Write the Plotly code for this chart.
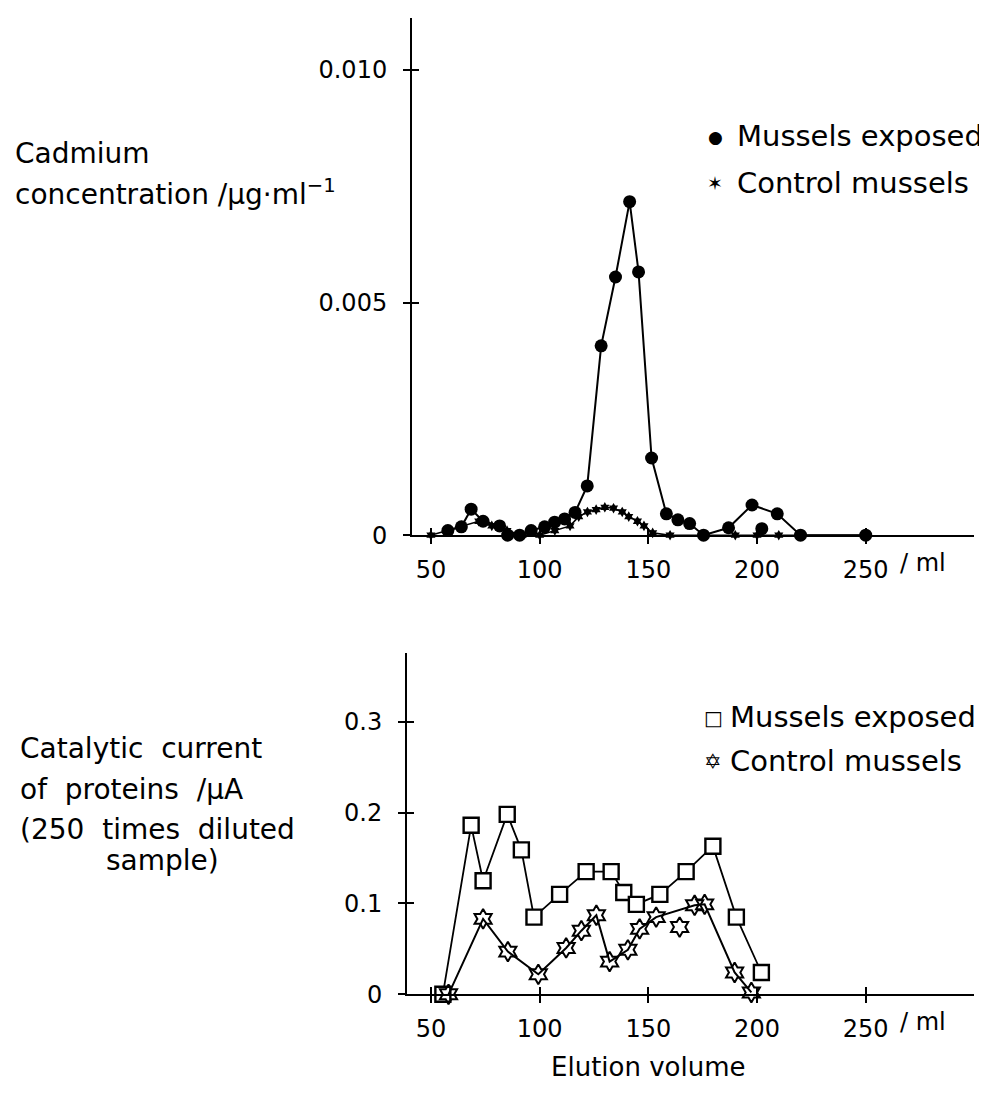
import plotly.graph_objects as go

W, H = 987, 1101

# ---------------- data ----------------
# Top panel: cadmium concentration (ug/ml) vs elution volume (ml)
cd_exposed_ml = [57.8, 64.0, 68.5, 74.0, 81.6, 85.3, 90.8, 96.1, 102.3, 106.9, 111.5,
                 116.3, 121.9, 128.3, 134.9, 141.4, 145.5, 151.5, 158.3, 163.6, 169.0,
                 175.4, 186.9, 197.7, 209.3, 220.0, 250.0]
cd_exposed_val = [0.0001, 0.00018, 0.00056, 0.0003, 0.0002, 0.0, 0.0, 0.0001, 0.00018,
                  0.00028, 0.00035, 0.00049, 0.00106, 0.00407, 0.00555, 0.00717,
                  0.00566, 0.00166, 0.00046, 0.00033, 0.00025, 0.0, 0.00016, 0.00065,
                  0.00046, 0.0, 0.0]
cd_exposed_extra_ml = [202.2]
cd_exposed_extra_val = [0.00014]

cd_control_ml = [50, 57, 64, 72, 78, 85, 92, 100, 107, 114, 118, 122, 126, 130, 134,
                 138, 141, 145, 148, 152, 160, 175, 190, 200, 210, 220, 250]
cd_control_val = [0.0, 0.0001, 0.0002, 0.0003, 0.0002, 0.0001, 0.0, 0.0, 0.0001, 0.0002,
                  0.0004, 0.0005, 0.00055, 0.0006, 0.00058, 0.0005, 0.0004, 0.0003,
                  0.0002, 0.00005, 0.0, 0.0, 0.0, 0.0, 0.0, 0.0, 0.0]

# Bottom panel: catalytic current of proteins (uA)
cc_exposed_ml = [55.5, 68.5, 74.0, 85.1, 91.6, 97.4, 109.2, 121.4, 132.9, 138.7, 144.5,
                 155.3, 167.4, 179.7, 190.5, 202.0]
cc_exposed_val = [0.0, 0.186, 0.125, 0.198, 0.159, 0.085, 0.110, 0.135, 0.135, 0.112,
                  0.099, 0.110, 0.135, 0.163, 0.085, 0.024]

cc_control_ml = [58.1, 74.0, 85.4, 99.4, 112.2, 119.2, 126.1, 132.2, 140.6, 146.0,
                 153.6, 171.3, 175.9, 189.7, 197.4]
cc_control_val = [0.0, 0.083, 0.047, 0.022, 0.051, 0.070, 0.087, 0.036, 0.049, 0.072,
                  0.085, 0.098, 0.099, 0.024, 0.002]
cc_control_extra_ml = [164.4]
cc_control_extra_val = [0.074]

x_ticks = [50, 100, 150, 200, 250]
top_y_ticks = [0, 0.005, 0.010]
top_y_ticktext = ["0", "0.005", "0.010"]
bot_y_ticks = [0, 0.1, 0.2, 0.3]
bot_y_ticktext = ["0", "0.1", "0.2", "0.3"]

legend_labels = ["Mussels exposed", "Control mussels"]

# ---------------- figure ----------------
FONT = "DejaVu Sans"
BLACK = "black"


def px(x):
    return x / W


def py(y):
    return 1 - y / H


fig = go.Figure()

# top panel
fig.add_trace(go.Scatter(x=cd_control_ml, y=cd_control_val, mode="lines+markers",
                         line=dict(color=BLACK, width=1.6),
                         marker=dict(symbol="hexagram", size=8, color=BLACK),
                         xaxis="x", yaxis="y", cliponaxis=False, showlegend=False))
fig.add_trace(go.Scatter(x=cd_exposed_ml, y=cd_exposed_val, mode="lines+markers",
                         line=dict(color=BLACK, width=2),
                         marker=dict(symbol="circle", size=13, color=BLACK),
                         xaxis="x", yaxis="y", cliponaxis=False, showlegend=False))
fig.add_trace(go.Scatter(x=cd_exposed_extra_ml, y=cd_exposed_extra_val, mode="markers",
                         marker=dict(symbol="circle", size=13, color=BLACK),
                         xaxis="x", yaxis="y", cliponaxis=False, showlegend=False))

# bottom panel
fig.add_trace(go.Scatter(x=cc_exposed_ml, y=cc_exposed_val, mode="lines+markers",
                         line=dict(color=BLACK, width=1.8),
                         marker=dict(symbol="square", size=15, color="white",
                                     line=dict(color=BLACK, width=2.4)),
                         xaxis="x2", yaxis="y2", cliponaxis=False, showlegend=False))
fig.add_trace(go.Scatter(x=cc_control_ml, y=cc_control_val, mode="lines+markers",
                         line=dict(color=BLACK, width=2),
                         marker=dict(symbol="hexagram-open", size=15, color=BLACK,
                                     line=dict(color=BLACK, width=2)),
                         xaxis="x2", yaxis="y2", cliponaxis=False, showlegend=False))
fig.add_trace(go.Scatter(x=cc_control_extra_ml, y=cc_control_extra_val, mode="markers",
                         marker=dict(symbol="hexagram-open", size=15, color=BLACK,
                                     line=dict(color=BLACK, width=2)),
                         xaxis="x2", yaxis="y2", cliponaxis=False, showlegend=False))

# empty traces so the inner-tick overlay axes are drawn
for xa, ya in (("x3", "y3"), ("x4", "y4")):
    fig.add_trace(go.Scatter(x=[], y=[], xaxis=xa, yaxis=ya, showlegend=False,
                             hoverinfo="skip"))

TOP_X_DOMAIN = [px(404), px(966)]
TOP_X_RANGE = [41.3, 299.8]
BOT_X_DOMAIN = [px(399), px(966)]
BOT_X_RANGE = [39.0, 299.8]
TOP_Y_DOMAIN = [py(534), py(10)]
TOP_Y_RANGE = [0, 0.01112]
BOT_Y_DOMAIN = [py(999), py(653)]
BOT_Y_RANGE = [0, 0.376]

TICKFONT = dict(family=FONT, size=24, color=BLACK)
base = dict(showgrid=False, zeroline=False, tickcolor=BLACK, tickwidth=2, ticklen=7)
main_x = dict(showline=True, linecolor=BLACK, linewidth=2, ticks="outside",
              tickfont=TICKFONT, ticklabelstandoff=5, tickvals=x_ticks,
              ticktext=[str(v) for v in x_ticks], **base)
main_y = dict(showline=True, linecolor=BLACK, linewidth=2, ticks="outside",
              tickfont=TICKFONT, ticklabelstandoff=11, **base)
inner = dict(showline=False, ticks="inside", showticklabels=False, **base)

fig.update_layout(
    width=W, height=H,
    margin=dict(l=0, r=0, t=0, b=0),
    paper_bgcolor="white", plot_bgcolor="white",
    xaxis=dict(domain=TOP_X_DOMAIN, range=TOP_X_RANGE, anchor="y", **main_x),
    yaxis=dict(domain=TOP_Y_DOMAIN, range=TOP_Y_RANGE, anchor="x",
               tickvals=top_y_ticks, ticktext=top_y_ticktext, **main_y),
    xaxis2=dict(domain=BOT_X_DOMAIN, range=BOT_X_RANGE, anchor="y2", **main_x),
    yaxis2=dict(domain=BOT_Y_DOMAIN, range=BOT_Y_RANGE, anchor="x2",
                tickvals=bot_y_ticks, ticktext=bot_y_ticktext, **main_y),
    # overlay axes giving the crossing ("+") tick marks on the inner side
    xaxis3=dict(domain=TOP_X_DOMAIN, range=TOP_X_RANGE, anchor="y3", overlaying="x",
                tickvals=x_ticks, **inner),
    yaxis3=dict(domain=TOP_Y_DOMAIN, range=TOP_Y_RANGE, anchor="x3", overlaying="y",
                tickvals=top_y_ticks, **inner),
    xaxis4=dict(domain=BOT_X_DOMAIN, range=BOT_X_RANGE, anchor="y4", overlaying="x2",
                tickvals=x_ticks, **inner),
    yaxis4=dict(domain=BOT_Y_DOMAIN, range=BOT_Y_RANGE, anchor="x4", overlaying="y2",
                tickvals=bot_y_ticks, **inner),
)

ann = []


def add_text(text, x, y, size=28, xanchor="left"):
    ann.append(dict(text=text, x=px(x), y=py(y), xref="paper", yref="paper",
                    xanchor=xanchor, yanchor="middle", showarrow=False,
                    font=dict(family=FONT, size=size, color=BLACK)))


# axis titles (top)
add_text("Cadmium", 5, 147)
add_text("concentration /μg·ml<sup>−1</sup>", 5, 187)
# axis titles (bottom)
add_text("Catalytic  current", 10, 750)
add_text("of  proteins  /μA", 10, 792)
add_text("(250  times  diluted", 10, 832)
add_text("sample)", 96, 863)
add_text("Elution volume", 640, 1073, size=26, xanchor="center")
# unit after the 250 tick
add_text("/ ml", 890, 562, size=24)
add_text("/ ml", 890, 1027, size=24)

# legends
add_text("●", 707, 131, size=17, xanchor="center")
add_text(legend_labels[0], 727, 130, size=29)
add_text("✶", 707, 177, size=19, xanchor="center")
add_text(legend_labels[1], 727, 177, size=29)
add_text("□", 705, 719, size=20, xanchor="center")
add_text(legend_labels[0], 720, 718, size=29)
add_text("✡", 705, 764, size=21, xanchor="center")
add_text(legend_labels[1], 720, 763, size=29)

fig.update_layout(annotations=ann)

fig.write_html("out.html")
